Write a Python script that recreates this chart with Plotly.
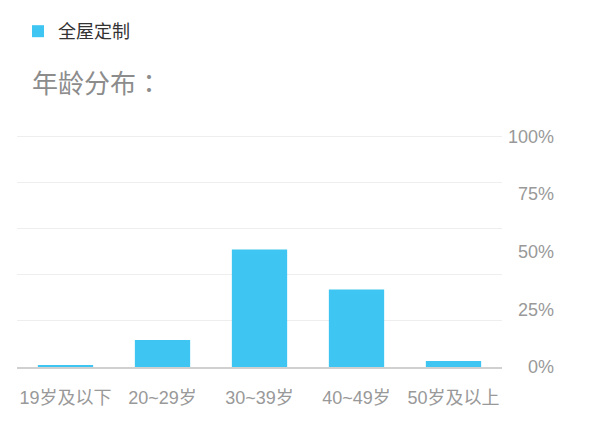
import plotly.graph_objects as go

ages = ["19岁及以下", "20~29岁", "30~39岁", "40~49岁", "50岁及以上"]
share = [0.8, 11.7, 50.9, 33.6, 2.6]
label_vals = [0, 25, 50, 75, 100]
label_text = ["0%", "25%", "50%", "75%", "100%"]

FONT = "Liberation Sans, Noto Sans CJK SC, sans-serif"
Y_RANGE = [0, 101]  # a little above 100 so the top grid line is drawn

fig = go.Figure()

fig.add_trace(
    go.Bar(
        x=ages,
        y=share,
        name="全屋定制",
        marker=dict(color="#3ec5f2", line=dict(width=0)),
        hovertemplate="%{x}: %{y}%<extra></extra>",
    )
)

# invisible trace so the label axis gets drawn
fig.add_trace(
    go.Scatter(
        x=ages,
        y=share,
        yaxis="y2",
        mode="markers",
        marker=dict(opacity=0),
        showlegend=False,
        hoverinfo="skip",
    )
)

# the page body adds an 8px offset, so everything is placed 8px up/left
fig.update_layout(
    width=600,
    height=444,
    margin=dict(l=9, r=51, t=126, b=85, autoexpand=False),
    paper_bgcolor="white",
    plot_bgcolor="white",
    font=dict(family=FONT, size=18, color="#999999"),
    bargap=0.43,
    title=dict(
        text="年龄分布<span style='font-family:Noto Sans CJK TC'>：</span>",
        xref="container",
        yref="container",
        x=24 / 600,
        y=1 - 76 / 444,
        xanchor="left",
        yanchor="middle",
        pad=dict(l=0, r=0, t=0, b=0),
        font=dict(family=FONT, size=26, color="#8c8c8c"),
    ),
    showlegend=True,
    legend=dict(
        xref="container",
        yref="container",
        x=10 / 600,
        y=1 - 23.5 / 444,
        xanchor="left",
        yanchor="middle",
        font=dict(family=FONT, size=18, color="#333333"),
        bgcolor="rgba(0,0,0,0)",
    ),
    xaxis=dict(
        type="category",
        domain=[0, 485 / 540],
        automargin=False,
        tickangle=0,
        showgrid=False,
        showline=True,
        linecolor="#d0d0d0",
        linewidth=1.5,
        ticks="",
        ticklabelstandoff=14,
        tickfont=dict(family=FONT, size=18, color="#999999"),
        zeroline=False,
    ),
    yaxis=dict(
        range=Y_RANGE,
        tickvals=[0, 20, 40, 60, 80, 100],
        automargin=False,
        showgrid=True,
        gridcolor="#eeeeee",
        gridwidth=1,
        showticklabels=False,
        zeroline=False,
        ticks="",
    ),
    yaxis2=dict(
        range=Y_RANGE,
        overlaying="y",
        side="right",
        anchor="free",
        position=1.0,
        automargin=False,
        tickvals=label_vals,
        ticktext=label_text,
        ticklabelposition="inside",
        ticklabeloverflow="allow",
        showgrid=False,
        zeroline=False,
        showline=False,
        ticks="",
        tickfont=dict(family=FONT, size=18, color="#999999"),
    ),
)

fig.write_html("out.html")
